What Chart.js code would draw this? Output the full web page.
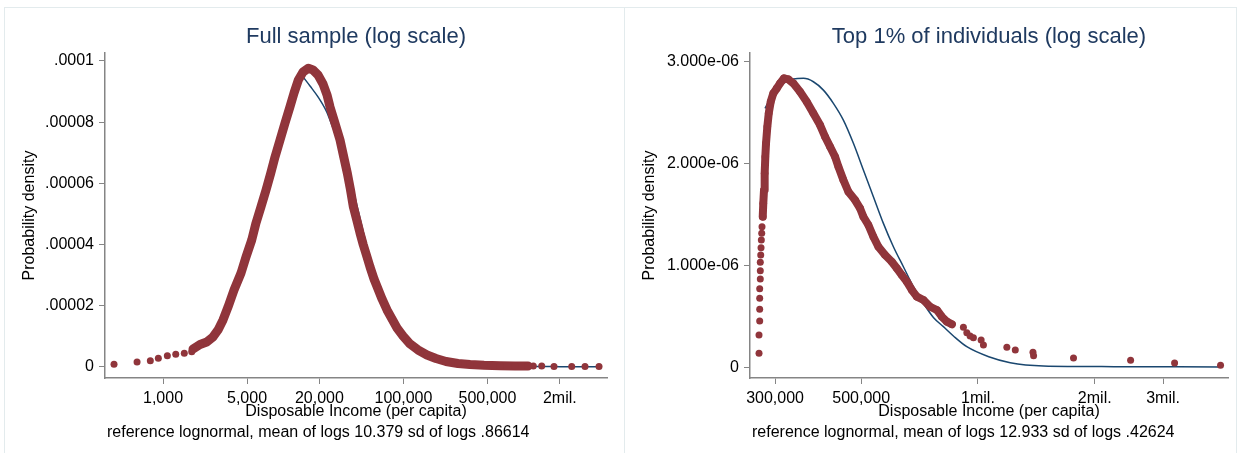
<!DOCTYPE html>
<html lang="en">
<head>
    <meta charset="UTF-8">
    <title>Disposable income density (log scale)</title>
    <style>
        body {
            margin: 0;
            background: #ffffff;
            overflow: hidden;
            font-family: "Liberation Sans", Arial, sans-serif;
        }
        .panel {
            position: absolute;
            top: 7px;
            height: 460px;
            border: 1px solid #e3ebed;
            background: #ffffff;
        }
        canvas {
            display: block;
        }
    </style>
</head>
<body>
    <div class="panel" style="left:4px; width:619px;">
        <canvas id="fullChart" width="619" height="445"></canvas>
    </div>
    <div class="panel" style="left:624px; width:611px;">
        <canvas id="topChart" width="611" height="445"></canvas>
    </div>

    <script src="https://cdn.jsdelivr.net/npm/chart.js"></script>
    <script>
        // ---- Full sample (densities in units of 1e-5) ----
        const fullTitle = 'Full sample (log scale)';
        const fullNote = 'reference lognormal, mean of logs 10.379 sd of logs .86614';
        const fullXTicks = [1000, 5000, 20000, 100000, 500000, 2000000];
        const fullXLabels = ['1,000', '5,000', '20,000', '100,000', '500,000', '2mil.'];
        const fullYTicks = [0, 2, 4, 6, 8, 10];
        const fullYLabels = ['0', '.00002', '.00004', '.00006', '.00008', '.0001'];

        const fullLowX = [391, 608, 784, 914, 1086, 1276, 1503, 1733];
        const fullLowY = [0.088, 0.163, 0.206, 0.284, 0.369, 0.415, 0.448, 0.500];

        const fullDenseX = [1776, 2031, 2310, 2606, 2869, 3156, 3474, 3896, 4456, 4904,
            5470, 5938, 6537, 7194, 7870, 8545, 9406, 10350, 11390, 12300,
            13360, 14610, 16180, 17700, 19480, 21440, 23140, 24510, 26460, 28030,
            29690, 31750, 34150, 36300, 38300, 40890, 43540, 46390, 49800, 52750,
            56930, 61480, 66370, 73030, 80380, 88460, 99240, 113500, 132300, 157100,
            186700, 226200, 284600, 358200, 468300, 636500, 848000, 1088000];
        const fullDenseY = [0.588, 0.735, 0.817, 0.980, 1.209, 1.536, 1.961, 2.516, 3.072, 3.595,
            4.150, 4.706, 5.239, 5.784, 6.330, 6.863, 7.418, 7.974, 8.507, 8.954,
            9.379, 9.641, 9.761, 9.706, 9.542, 9.248, 8.889, 8.497, 8.072, 7.745,
            7.418, 6.895, 6.330, 5.784, 5.239, 4.804, 4.379, 3.987, 3.595, 3.268,
            2.876, 2.549, 2.222, 1.863, 1.569, 1.275, 1.013, 0.752, 0.556, 0.392,
            0.278, 0.180, 0.114, 0.082, 0.056, 0.039, 0.033, 0.033];

        const fullHighX = [1204000, 1414000, 1790000, 2513000, 3242000, 4240000];
        const fullHighY = [0.030, 0.030, 0.015, 0.015, 0.015, 0.015];

        const fullFitX = [14530, 16710, 19480, 23010, 25960, 29690, 33300, 37360, 41920, 47010,
            52750, 61480, 74450, 93700, 124900, 166400, 244200, 433900, 933300, 2008000, 4240000];
        const fullFitY = [9.493, 9.183, 8.824, 8.333, 7.810, 7.320, 6.667, 5.948, 5.131, 4.314,
            3.562, 2.680, 1.797, 1.111, 0.588, 0.327, 0.163, 0.065, 0.023, 0.010, 0.005];

        // ---- Top 1% (densities in units of 1e-6) ----
        const topTitle = 'Top 1% of individuals (log scale)';
        const topNote = 'reference lognormal, mean of logs 12.933 sd of logs .42624';
        const topXTicks = [300000, 500000, 1000000, 2000000, 3000000];
        const topXLabels = ['300,000', '500,000', '1mil.', '2mil.', '3mil.'];
        const topYTicks = [0, 1, 2, 3];
        const topYLabels = ['0', '1.000e-06', '2.000e-06', '3.000e-06'];

        const topRiseX = [272700, 272700, 273800, 273800, 273800, 273800, 274800, 274800, 274800, 275500,
            276000, 276500, 277100, 277600];
        const topRiseY = [0.144, 0.323, 0.459, 0.574, 0.681, 0.775, 0.870, 0.951, 1.033, 1.105,
            1.176, 1.251, 1.317, 1.381];

        const topDenseX = [278800, 279700, 280900, 282000, 283100, 284300, 286500, 288900, 292300, 296800,
            302900, 308900, 316300, 324500, 334300, 347900, 362000, 376500, 391800, 403600,
            415800, 428300, 436800, 449900, 463500, 482200, 496800, 506600, 521900, 537600,
            553800, 576300, 599700, 617800, 636400, 655600, 675400, 695800, 723600, 752900,
            783500, 807100, 831400, 856500];
        const topDenseY = [1.479, 1.610, 1.740, 1.903, 2.065, 2.197, 2.359, 2.490, 2.603, 2.685,
            2.734, 2.783, 2.832, 2.822, 2.783, 2.701, 2.603, 2.490, 2.375, 2.261,
            2.163, 2.065, 1.968, 1.838, 1.723, 1.642, 1.561, 1.479, 1.398, 1.283,
            1.186, 1.105, 1.039, 0.975, 0.909, 0.844, 0.762, 0.697, 0.665, 0.599,
            0.567, 0.501, 0.453, 0.427];

        const topTailX = [917200, 936000, 954500, 973400, 1019000, 1033000, 1187000, 1248000, 1386000, 1391000,
            1763000, 2474000, 3212000, 4219000];
        const topTailY = [0.398, 0.345, 0.313, 0.296, 0.274, 0.225, 0.202, 0.176, 0.153, 0.120,
            0.098, 0.075, 0.049, 0.026];

        const topFitX = [282600, 296800, 315000, 334300, 355000, 376500, 399600, 424000, 449900, 477500,
            506600, 537600, 570500, 605400, 642400, 681700, 723600, 767700, 814600, 864500,
            936000, 1066000, 1211000, 1474000, 2240000, 4219000];
        const topFitY = [2.539, 2.685, 2.783, 2.825, 2.832, 2.799, 2.717, 2.588, 2.424, 2.197,
            1.936, 1.675, 1.414, 1.186, 0.990, 0.795, 0.632, 0.494, 0.404, 0.313,
            0.208, 0.110, 0.052, 0.020, 0.013, 0.010];

        const FONT = '"Liberation Sans", Arial, sans-serif';
        const MAROON = '#90353b';
        const NAVY = '#1a476f';
        const AXIS = '#858585';

        function pts(xs, ys) {
            return xs.map((x, i) => ({ x: x, y: ys[i] }));
        }

        // title above the plot and note under the axis title
        const panelText = {
            id: 'panelText',
            afterDraw(chart, args, opts) {
                const { ctx, chartArea } = chart;
                ctx.save();
                ctx.font = '22px ' + FONT;
                ctx.fillStyle = '#1f3a60';
                ctx.textAlign = 'center';
                ctx.textBaseline = 'alphabetic';
                ctx.fillText(opts.title, (chartArea.left + chartArea.right) / 2, 35);
                ctx.font = '16px ' + FONT;
                ctx.fillStyle = '#000';
                ctx.textAlign = 'left';
                ctx.fillText(opts.note, chartArea.left + 2, 429);
                ctx.restore();
            }
        };

        function makeChart(id, o) {
            const datasets = [
                {
                    data: pts(o.lowX, o.lowY), showLine: false,
                    pointRadius: 3.5, pointBackgroundColor: MAROON, pointBorderWidth: 0, order: 1
                },
                {
                    data: pts(o.denseX, o.denseY), showLine: true,
                    borderColor: MAROON, borderWidth: o.band, borderJoinStyle: 'round', borderCapStyle: 'round',
                    pointRadius: 3.8, pointBackgroundColor: MAROON, pointBorderWidth: 0, order: 1
                },
                {
                    data: pts(o.highX, o.highY), showLine: false,
                    pointRadius: 3.5, pointBackgroundColor: MAROON, pointBorderWidth: 0, order: 1
                },
                {
                    data: pts(o.fitX, o.fitY), showLine: true,
                    borderColor: NAVY, borderWidth: 1.5, pointRadius: 0,
                    cubicInterpolationMode: 'monotone', order: 2
                }
            ];

            return new Chart(document.getElementById(id), {
                type: 'scatter',
                data: { datasets: datasets },
                options: {
                    responsive: false,
                    animation: false,
                    devicePixelRatio: 1,
                    layout: { padding: { left: 0, right: o.padRight, top: 45, bottom: 32 } },
                    plugins: {
                        legend: { display: false },
                        tooltip: { enabled: false },
                        panelText: { title: o.title, note: o.note }
                    },
                    scales: {
                        x: {
                            type: 'logarithmic',
                            min: o.xMin, max: o.xMax,
                            afterBuildTicks: s => { s.ticks = o.xTicks.map(v => ({ value: v })); },
                            afterFit: s => { s.height = 43; },
                            ticks: {
                                callback: (v, i) => o.xLabels[i],
                                autoSkip: false, maxRotation: 0, padding: 5,
                                color: '#000', font: { family: FONT, size: 16 }
                            },
                            grid: { drawOnChartArea: false, tickLength: 6, color: AXIS, tickColor: AXIS },
                            border: { color: AXIS, width: 1.5 },
                            title: {
                                display: true, text: 'Disposable Income (per capita)', color: '#000',
                                font: { family: FONT, size: 16 }, padding: { top: 0, bottom: 0 }
                            }
                        },
                        y: {
                            min: o.yMin, max: o.yMax,
                            afterBuildTicks: s => { s.ticks = o.yTicks.map(v => ({ value: v })); },
                            afterFit: s => { s.width = o.yWidth; },
                            ticks: {
                                callback: (v, i) => o.yLabels[i],
                                padding: 5, color: '#000', font: { family: FONT, size: 16 }
                            },
                            grid: { drawOnChartArea: false, tickLength: 6, color: AXIS, tickColor: AXIS },
                            border: { color: AXIS, width: 1.5 },
                            title: {
                                display: true, text: 'Probability density', color: '#000',
                                font: { family: FONT, size: 16 }, padding: { top: 15, bottom: 0 }
                            }
                        }
                    }
                },
                plugins: [panelText]
            });
        }

        makeChart('fullChart', {
            title: fullTitle, note: fullNote,
            lowX: fullLowX, lowY: fullLowY,
            denseX: fullDenseX, denseY: fullDenseY,
            highX: fullHighX, highY: fullHighY,
            fitX: fullFitX, fitY: fullFitY,
            xTicks: fullXTicks, xLabels: fullXLabels,
            yTicks: fullYTicks, yLabels: fullYLabels,
            xMin: 329, xMax: 4940000, yMin: -0.36, yMax: 10.26,
            yWidth: 100, padRight: 17, band: 9
        });

        makeChart('topChart', {
            title: topTitle, note: topNote,
            lowX: topRiseX, lowY: topRiseY,
            denseX: topDenseX, denseY: topDenseY,
            highX: topTailX, highY: topTailY,
            fitX: topFitX, fitY: topFitY,
            xTicks: topXTicks, xLabels: topXLabels,
            yTicks: topYTicks, yLabels: topYLabels,
            xMin: 258500, xMax: 4410000, yMin: -0.098, yMax: 3.08,
            yWidth: 125, padRight: 8, band: 8
        });
    </script>
</body>
</html>
